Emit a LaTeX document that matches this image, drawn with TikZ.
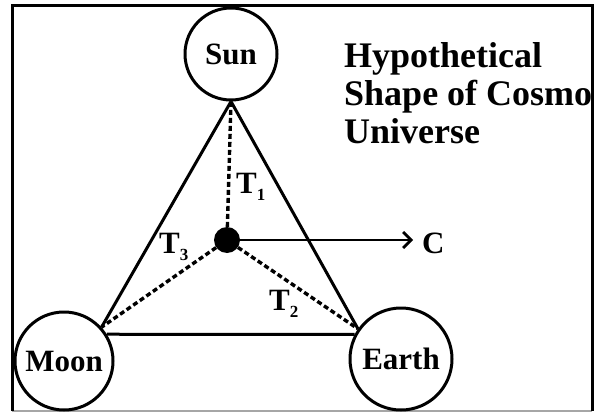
\documentclass[tikz,border=0pt]{standalone}
\usepackage{fontspec}
\setmainfont{Liberation Serif}
\usetikzlibrary{arrows.meta}

\newcommand{\tlab}[1]{T\raisebox{-7pt}{\fontsize{17}{17}\selectfont #1}}

\begin{document}
\begin{tikzpicture}[x=1pt,y=-1pt,font=\fontsize{31}{34}\selectfont\bfseries,
  body/.style={circle,draw=black,line width=3pt,inner sep=0pt},
  side/.style={line width=3pt},
  spoke/.style={line width=3.4pt,dash pattern=on 5pt off 3pt},
  tag/.style={anchor=base west,inner sep=0pt}]
\useasboundingbox (0,0) rectangle (594,412);
% frame
\draw[black!35,line width=1.5pt] (12,411) -- (592,411);
\draw[black,line width=3pt] (12,411) -- (12,6) -- (592,6) -- (592,411);
% bodies
\node[body,minimum size=92pt] (sun) at (231,54) {Sun};
\node[body,minimum size=98pt] (moon) at (64,361) {Moon};
\node[body,minimum size=102pt] (earth) at (401,359) {Earth};
\node[circle,fill=black,inner sep=0pt,minimum size=26pt] (hub) at (227,240) {};
% triangle
\draw[side] (sun.south) -- (moon.42);
\draw[side] (sun.south) -- (earth.145);
\draw[side] (moon.32) -- (earth.152);
% spokes
\draw[spoke] (hub) -- (sun.south);
\draw[spoke] (hub) -- (moon.42);
\draw[spoke] (hub) -- (earth.145);
% labels
\node[tag] (t1) at (236,193) {\tlab{1}};
\node[tag] (t3) at (159,253) {\tlab{3}};
\node[tag] (t2) at (269,310) {\tlab{2}};
\node[anchor=west,inner sep=0pt] (c) at (422,243) {C};
\draw[line width=2.8pt,-{Straight Barb[length=8pt,width=16pt,line width=2.8pt]}] (hub) -- ([xshift=-9pt]hub -| c.west);
\node[anchor=north west,inner sep=0pt,align=left,font=\fontsize{36}{38}\selectfont\bfseries] (title) at (344,42)
  {Hypothetical\\Shape of Cosmo\\Universe};
\end{tikzpicture}
\end{document}
